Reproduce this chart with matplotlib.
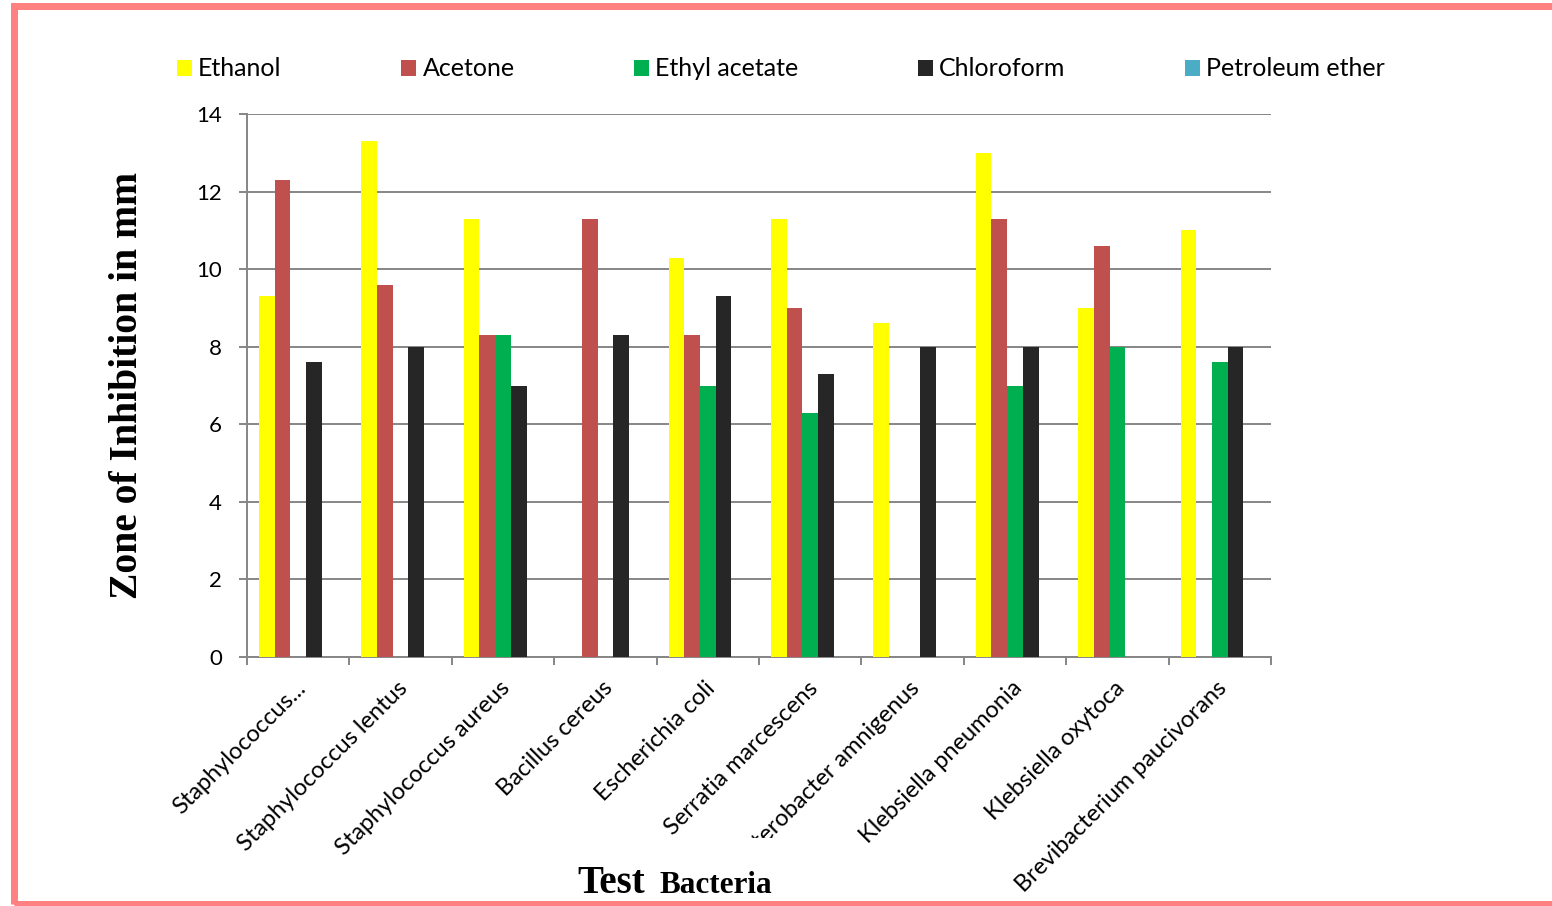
import matplotlib
matplotlib.use('Agg')
import matplotlib.pyplot as plt
import matplotlib.transforms as mtransforms
from matplotlib.patches import Rectangle
import numpy as np

bacteria = ['Staphylococcus...', 'Staphylococcus lentus', 'Staphylococcus aureus',
            'Bacillus cereus', 'Escherichia coli', 'Serratia marcescens',
            'Enterobacter amnigenus', 'Klebsiella pneumonia', 'Klebsiella oxytoca',
            'Brevibacterium paucivorans']
solvents = ['Ethanol', 'Acetone', 'Ethyl acetate', 'Chloroform', 'Petroleum ether']

ethanol = [9.3, 13.3, 11.3, 0, 10.3, 11.3, 8.6, 13.0, 9.0, 11.0]
acetone = [12.3, 9.6, 8.3, 11.3, 8.3, 9.0, 0, 11.3, 10.6, 0]
ethyl_acetate = [0, 0, 8.3, 0, 7.0, 6.3, 0, 7.0, 8.0, 7.6]
chloroform = [7.6, 8.0, 7.0, 8.3, 9.3, 7.3, 8.0, 8.0, 0, 8.0]
petroleum_ether = [0, 0, 0, 0, 0, 0, 0, 0, 0, 0]

colors = ['#FFFF00', '#C0504D', '#00B050', '#262626', '#4BACC6']
series = [ethanol, acetone, ethyl_acetate, chloroform, petroleum_ether]

plt.rcParams['font.family'] = ['Lato', 'DejaVu Sans']

fig = plt.figure(figsize=(15.52, 9.06), dpi=100)
ax = fig.add_axes([247/1552, 1-657/906, (1271-247)/1552, (657-114)/906])

x = np.arange(len(bacteria))
w = 0.153
handles = []
for i, (vals, c, name) in enumerate(zip(series, colors, solvents)):
    b = ax.bar(x + (i - 2) * w, vals, w, color=c, label=name, zorder=3)
    handles.append(b)

ax.set_xlim(-0.5, 9.5)
ax.set_ylim(0, 14)
ax.set_yticks(np.arange(0, 15, 2))
ax.yaxis.grid(True, color='#868686', linewidth=1.4, zorder=0)
for s in ['top', 'right']:
    ax.spines[s].set_visible(False)
for s in ['left', 'bottom']:
    ax.spines[s].set_color('#868686')
    ax.spines[s].set_linewidth(1.4)
ax.tick_params(axis='y', length=6, width=1.4, color='#868686', pad=12, labelsize=16)

ax.set_xticks(x)
ax.set_xticklabels(bacteria, rotation=45, ha='right', va='center',
                   rotation_mode='anchor', fontsize=17)
ax.set_xticks(np.arange(-0.5, 10, 1), minor=True)
ax.tick_params(axis='x', which='major', length=0, pad=20)
ax.tick_params(axis='x', which='minor', length=6, width=1.4, color='#868686')
offset = mtransforms.ScaledTranslation(0.04, 0, fig.dpi_scale_trans)
for lab in ax.get_xticklabels():
    lab.set_transform(lab.get_transform() + offset)
# the Enterobacter label is cut off at the bottom in the original
clip = mtransforms.TransformedBbox(mtransforms.Bbox([[0, 1-838/906], [1, 1]]), fig.transFigure)
lab = ax.get_xticklabels()[6]
lab.set_clip_box(clip)
lab.set_clip_on(True)

ax.set_ylabel('Zone of Inhibition in mm', family='Liberation Serif', fontweight='bold',
              fontsize=28.5, labelpad=36)

fig.text(577/1552, 1-893/906, 'Test', family='Liberation Serif', fontweight='bold',
         fontsize=28, va='baseline', ha='left')
fig.text(659/1552, 1-893/906, 'Bacteria', family='Liberation Serif', fontweight='bold',
         fontsize=22.5, va='baseline', ha='left')

fig.legend(handles=handles, loc='center left', bbox_to_anchor=(177/1552, 1-69/906),
           ncol=5, frameon=False, fontsize=18, borderpad=0, borderaxespad=0,
           handlelength=0.6, handleheight=0.6, handletextpad=0.25, columnspacing=4.78)

fig.patches.append(Rectangle((13.5/1552, 1-904/906), 1.1, (904-5.5)/906,
                             transform=fig.transFigure, fill=False,
                             edgecolor='#FF8080', linewidth=5))

fig.savefig('out.png', dpi=100)
